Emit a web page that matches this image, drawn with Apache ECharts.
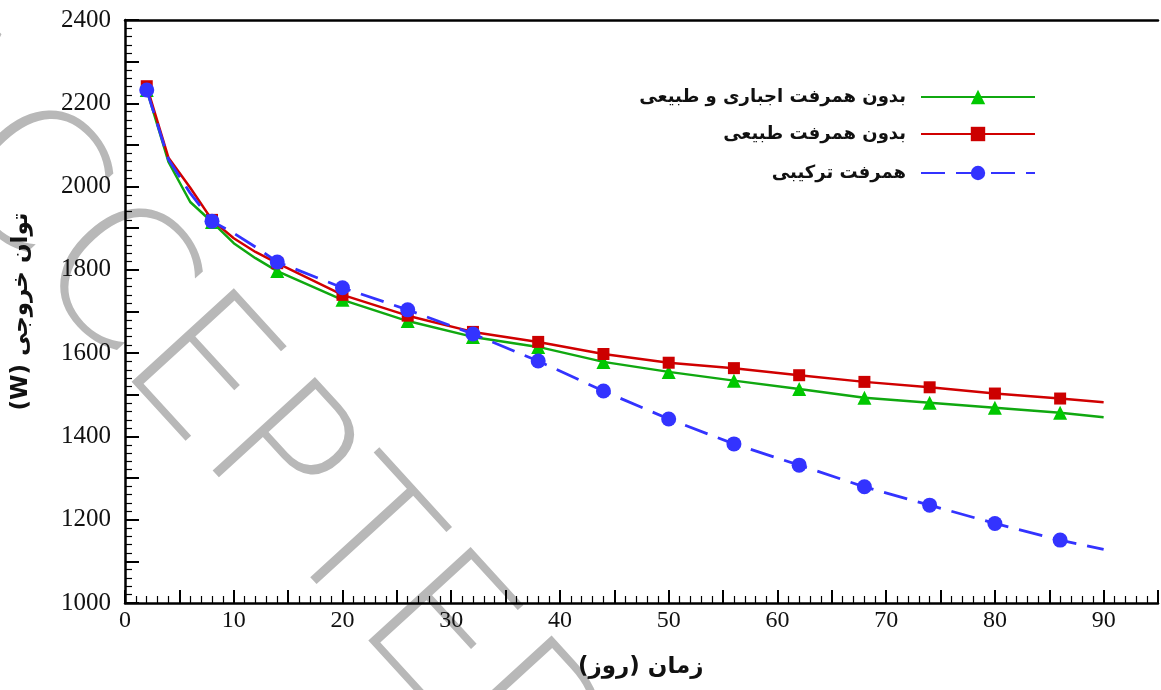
<!DOCTYPE html>
<html>
<head>
<meta charset="utf-8">
<script src="https://cdn.jsdelivr.net/npm/echarts@6/dist/echarts.min.js"></script>
<style>html,body{margin:0;padding:0;background:#fff}#c{width:1161px;height:690px}</style>
</head>
<body>
<div id="c"></div>
<script>
const days = [2,4,6,8,10,12,14,20,26,32,38,44,50,56,62,68,74,80,86,90];
const markerDays = [2,8,14,20,26,32,38,44,50,56,62,68,74,80,86];
const greenVals = [2232,2059,1963,1915,1864,1828,1797,1728,1677,1639,1615,1579,1555,1534,1514,1493,1481,1469,1457,1446];
const redVals   = [2241,2069,1997,1920,1876,1843,1816,1740,1690,1651,1627,1598,1577,1564,1547,1531,1518,1503,1491,1482];
const blueVals  = [2232,2065,1984,1917,1888,1855,1819,1757,1704,1646,1581,1509,1442,1382,1331,1279,1235,1191,1151,1129];
const seriesNames = ['بدون همرفت اجباری و طبیعی', 'بدون همرفت طبیعی', 'همرفت ترکیبی'];
const xName = 'زمان (روز)';
const yName = 'توان خروجی (W)';
const RLE = '\u202B', PDF = '\u202C';

function build(vals) {
  return days.map((d, i) => markerDays.includes(d) ? [d, vals[i]] : { value: [d, vals[i]], symbol: 'none' });
}
const chart = echarts.init(document.getElementById('c'));
const serif = 'Liberation Serif';
const colors = ['#10a810', '#d00000', '#3333ff'];
const markerColors = ['#00c800', '#cc0000', '#3333ff'];
const legendTops = [88, 125, 164];
chart.setOption({
  animation: false,
  backgroundColor: '#fff',
  grid: { left: 125, top: 20, right: -4, bottom: 87, containLabel: false },
  legend: seriesNames.map((n, i) => ({
    data: [n], orient: 'vertical', right: 125, top: legendTops[i], padding: 0,
    align: 'right', itemWidth: 114, itemHeight: 18, selectedMode: false,
    textStyle: { fontFamily: 'DejaVu Sans', fontWeight: 'bold', fontSize: 18, color: '#111', padding: [0, 10, 0, 0] }
  })),
  xAxis: [{
    type: 'value', min: 0, max: 95, interval: 5, position: 'bottom',
    axisLine: { show: true, onZero: false, lineStyle: { color: '#000', width: 2.5 } },
    axisTick: { show: true, inside: true, length: 13, lineStyle: { color: '#000', width: 2 } },
    minorTick: { show: true, splitNumber: 5, length: 7, lineStyle: { color: '#000', width: 1.2 } },
    splitLine: { show: false },
    axisLabel: { fontFamily: serif, fontSize: 24, color: '#111', margin: 6,
      formatter: v => (v % 10 === 0 ? String(v) : '') }
  }, {
    type: 'value', min: 0, max: 95, position: 'top',
    axisLine: { show: true, lineStyle: { color: '#000', width: 2.5 } },
    axisTick: { show: false }, axisLabel: { show: false }, splitLine: { show: false }
  }],
  yAxis: {
    type: 'value', min: 1000, max: 2400, interval: 100,
    name: RLE + yName + PDF, nameLocation: 'middle', nameGap: 92, nameRotate: 90,
    nameTextStyle: { fontFamily: 'DejaVu Sans', fontWeight: 'bold', fontSize: 23, color: '#111' },
    axisLine: { show: true, onZero: false, lineStyle: { color: '#000', width: 2.5 } },
    axisTick: { show: true, inside: true, length: 14, lineStyle: { color: '#000', width: 2 } },
    minorTick: { show: true, splitNumber: 5, length: 7, lineStyle: { color: '#000', width: 1.2 } },
    splitLine: { show: false },
    axisLabel: { fontFamily: serif, fontSize: 25, color: '#111', margin: 14,
      formatter: v => (v % 200 === 0 ? String(v) : '') }
  },
  graphic: [
    { type: 'text', left: 578, top: 656, style: { text: RLE + xName + PDF, font: 'bold 23px "DejaVu Sans"', fill: '#111' } },
    { type: 'text', x: -42, y: -22, rotation: -0.83, z: -1, silent: true,
      style: { text: 'ACCEPTED', font: '200 190px "DejaVu Sans"', fill: '#b8b8b8' } }
  ],
  series: [
    { name: seriesNames[0], type: 'line', z: 3, data: build(greenVals), symbol: 'triangle', symbolSize: 14,
      showAllSymbol: true, lineStyle: { color: colors[0], width: 2.5 }, itemStyle: { color: markerColors[0] } },
    { name: seriesNames[1], type: 'line', z: 4, data: build(redVals), symbol: 'rect', symbolSize: 12,
      showAllSymbol: true, lineStyle: { color: colors[1], width: 2.5 }, itemStyle: { color: markerColors[1] } },
    { name: seriesNames[2], type: 'line', z: 5, data: build(blueVals), symbol: 'circle', symbolSize: 15,
      showAllSymbol: true, lineStyle: { color: colors[2], width: 2.8, type: [24, 11] }, itemStyle: { color: markerColors[2] } }
  ]
});
</script>
</body>
</html>
